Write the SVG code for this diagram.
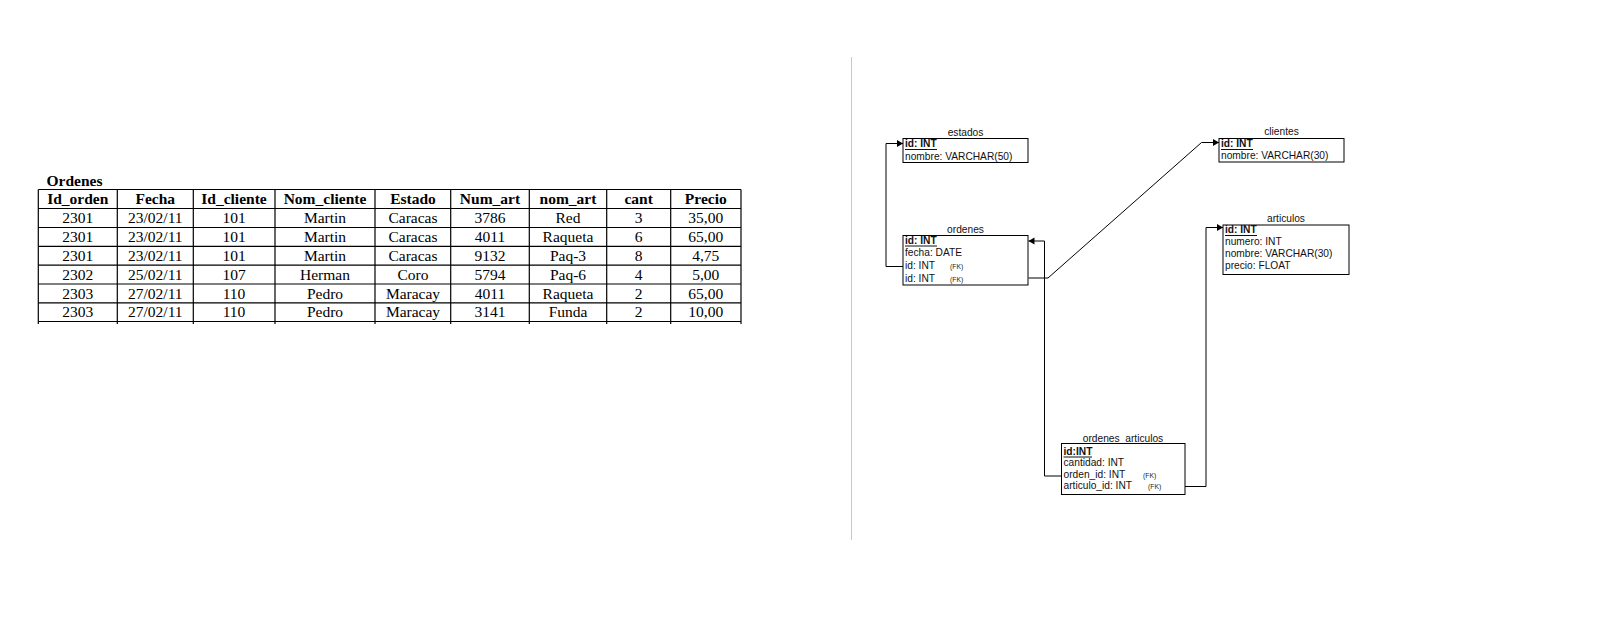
<svg xmlns="http://www.w3.org/2000/svg" width="1623" height="624" viewBox="0 0 1623 624">
<style>
.tl{stroke:#000;stroke-width:1.2;fill:none}
.th{font-family:"Liberation Serif","Times New Roman",serif;font-size:15.5px;font-weight:bold;text-anchor:middle;fill:#000}
.td{font-family:"Liberation Serif","Times New Roman",serif;font-size:15.5px;text-anchor:middle;fill:#000}
.box{fill:#fff;stroke:#000;stroke-width:1}
.ttl{font-family:"Liberation Sans",Arial,sans-serif;font-size:10.2px;text-anchor:middle;fill:#111}
.f{font-family:"Liberation Sans",Arial,sans-serif;font-size:10.2px;fill:#111}
.pk{font-family:"Liberation Sans",Arial,sans-serif;font-size:10.2px;font-weight:bold;fill:#111}
.fk{font-family:"Liberation Sans",Arial,sans-serif;font-size:6.8px;fill:#222}
.ul{stroke:#111;stroke-width:1}
.con{stroke:#000;stroke-width:1;fill:none;marker-end:url(#arr)}
</style>
<defs>
<marker id="arr" markerUnits="userSpaceOnUse" markerWidth="7" markerHeight="8" refX="6" refY="4" orient="auto">
<path d="M0,0.5 L6,4 L0,7.5 z" fill="#000"/>
</marker>
</defs>
<rect width="1623" height="624" fill="#fff"/>

<g id="tabla-ordenes">
<text x="46.5" y="186" font-family="Liberation Serif,Times New Roman,serif" font-size="15.5" font-weight="bold">Ordenes</text>
<g class="tl">
<line x1="38.3" y1="189.5" x2="741" y2="189.5"/>
<line x1="38.3" y1="208.5" x2="741" y2="208.5"/>
<line x1="38.3" y1="227.5" x2="741" y2="227.5"/>
<line x1="38.3" y1="246.3" x2="741" y2="246.3"/>
<line x1="38.3" y1="265.2" x2="741" y2="265.2"/>
<line x1="38.3" y1="284" x2="741" y2="284"/>
<line x1="38.3" y1="302.8" x2="741" y2="302.8"/>
<line x1="38.3" y1="321.5" x2="741" y2="321.5"/>
<line x1="38.3" y1="189.5" x2="38.3" y2="324"/>
<line x1="117.3" y1="189.5" x2="117.3" y2="324"/>
<line x1="193.3" y1="189.5" x2="193.3" y2="324"/>
<line x1="275" y1="189.5" x2="275" y2="324"/>
<line x1="375" y1="189.5" x2="375" y2="324"/>
<line x1="450.7" y1="189.5" x2="450.7" y2="324"/>
<line x1="529.3" y1="189.5" x2="529.3" y2="324"/>
<line x1="606.7" y1="189.5" x2="606.7" y2="324"/>
<line x1="670.7" y1="189.5" x2="670.7" y2="324"/>
<line x1="741" y1="189.5" x2="741" y2="324"/>
</g>
<g class="th">
<text x="77.8" y="204.3">Id_orden</text><text x="155.3" y="204.3">Fecha</text><text x="234" y="204.3">Id_cliente</text><text x="325" y="204.3">Nom_cliente</text><text x="413" y="204.3">Estado</text><text x="490" y="204.3">Num_art</text><text x="568" y="204.3">nom_art</text><text x="638.7" y="204.3">cant</text><text x="705.8" y="204.3">Precio</text>
</g>
<g class="td">
<text x="77.8" y="223.3">2301</text><text x="155.3" y="223.3">23/02/11</text><text x="234" y="223.3">101</text><text x="325" y="223.3">Martin</text><text x="413" y="223.3">Caracas</text><text x="490" y="223.3">3786</text><text x="568" y="223.3">Red</text><text x="638.7" y="223.3">3</text><text x="705.8" y="223.3">35,00</text>
<text x="77.8" y="242.2">2301</text><text x="155.3" y="242.2">23/02/11</text><text x="234" y="242.2">101</text><text x="325" y="242.2">Martin</text><text x="413" y="242.2">Caracas</text><text x="490" y="242.2">4011</text><text x="568" y="242.2">Raqueta</text><text x="638.7" y="242.2">6</text><text x="705.8" y="242.2">65,00</text>
<text x="77.8" y="261">2301</text><text x="155.3" y="261">23/02/11</text><text x="234" y="261">101</text><text x="325" y="261">Martin</text><text x="413" y="261">Caracas</text><text x="490" y="261">9132</text><text x="568" y="261">Paq-3</text><text x="638.7" y="261">8</text><text x="705.8" y="261">4,75</text>
<text x="77.8" y="279.8">2302</text><text x="155.3" y="279.8">25/02/11</text><text x="234" y="279.8">107</text><text x="325" y="279.8">Herman</text><text x="413" y="279.8">Coro</text><text x="490" y="279.8">5794</text><text x="568" y="279.8">Paq-6</text><text x="638.7" y="279.8">4</text><text x="705.8" y="279.8">5,00</text>
<text x="77.8" y="298.6">2303</text><text x="155.3" y="298.6">27/02/11</text><text x="234" y="298.6">110</text><text x="325" y="298.6">Pedro</text><text x="413" y="298.6">Maracay</text><text x="490" y="298.6">4011</text><text x="568" y="298.6">Raqueta</text><text x="638.7" y="298.6">2</text><text x="705.8" y="298.6">65,00</text>
<text x="77.8" y="317.3">2303</text><text x="155.3" y="317.3">27/02/11</text><text x="234" y="317.3">110</text><text x="325" y="317.3">Pedro</text><text x="413" y="317.3">Maracay</text><text x="490" y="317.3">3141</text><text x="568" y="317.3">Funda</text><text x="638.7" y="317.3">2</text><text x="705.8" y="317.3">10,00</text>
</g>
</g>

<line id="separador" x1="851.5" y1="57" x2="851.5" y2="540" stroke="#c8c8c8" stroke-width="1"/>

<g id="connectors">
<path class="con" d="M903,266.5 H886 V143.5 H903"/>
<path class="con" d="M1028.5,278 H1048 L1201.5,142.5 H1219"/>
<path class="con" d="M1061.5,476 H1044.5 V241 H1028.5"/>
<path class="con" d="M1185,486.5 H1206 V227.5 H1223"/>
</g>

<g id="estados">
<text class="ttl" x="965.5" y="135.5">estados</text>
<rect class="box" x="903" y="138.5" width="125" height="24"/>
<text class="pk" x="905" y="147">id: INT</text><line class="ul" x1="905" y1="149.5" x2="937" y2="149.5"/>
<text class="f" x="905" y="159.5">nombre: VARCHAR(50)</text>
</g>

<g id="clientes">
<text class="ttl" x="1281.5" y="134.5">clientes</text>
<rect class="box" x="1219" y="138.5" width="125" height="23.5"/>
<text class="pk" x="1221" y="147">id: INT</text><line class="ul" x1="1221" y1="149.5" x2="1253" y2="149.5"/>
<text class="f" x="1221" y="159">nombre: VARCHAR(30)</text>
</g>

<g id="ordenes">
<text class="ttl" x="965.5" y="232.5">ordenes</text>
<rect class="box" x="903" y="235.5" width="125" height="49.5"/>
<text class="pk" x="905" y="243.5">id: INT</text><line class="ul" x1="905" y1="246" x2="937" y2="246"/>
<text class="f" x="905" y="256">fecha: DATE</text>
<text class="f" x="905" y="268.5">id: INT</text><text class="fk" x="950" y="268.5">(FK)</text>
<text class="f" x="905" y="281.5">id: INT</text><text class="fk" x="950" y="281.5">(FK)</text>
</g>

<g id="articulos">
<text class="ttl" x="1286" y="222">articulos</text>
<rect class="box" x="1223" y="225" width="126" height="49.5"/>
<text class="pk" x="1225" y="233">id: INT</text><line class="ul" x1="1225" y1="235.5" x2="1257" y2="235.5"/>
<text class="f" x="1225" y="245.3">numero: INT</text>
<text class="f" x="1225" y="257">nombre: VARCHAR(30)</text>
<text class="f" x="1225" y="268.8">precio: FLOAT</text>
</g>

<g id="ordenes_articulos">
<text class="ttl" x="1123" y="441.5">ordenes_articulos</text>
<rect class="box" x="1061.5" y="443.5" width="123.5" height="51"/>
<text class="pk" x="1063.5" y="454.5">id:INT</text><line class="ul" x1="1063.5" y1="457" x2="1092" y2="457"/>
<text class="f" x="1063.5" y="466">cantidad: INT</text>
<text class="f" x="1063.5" y="477.5">orden_id: INT</text><text class="fk" x="1143" y="477.5">(FK)</text>
<text class="f" x="1063.5" y="489">articulo_id: INT</text><text class="fk" x="1148" y="489">(FK)</text>
</g>
</svg>
